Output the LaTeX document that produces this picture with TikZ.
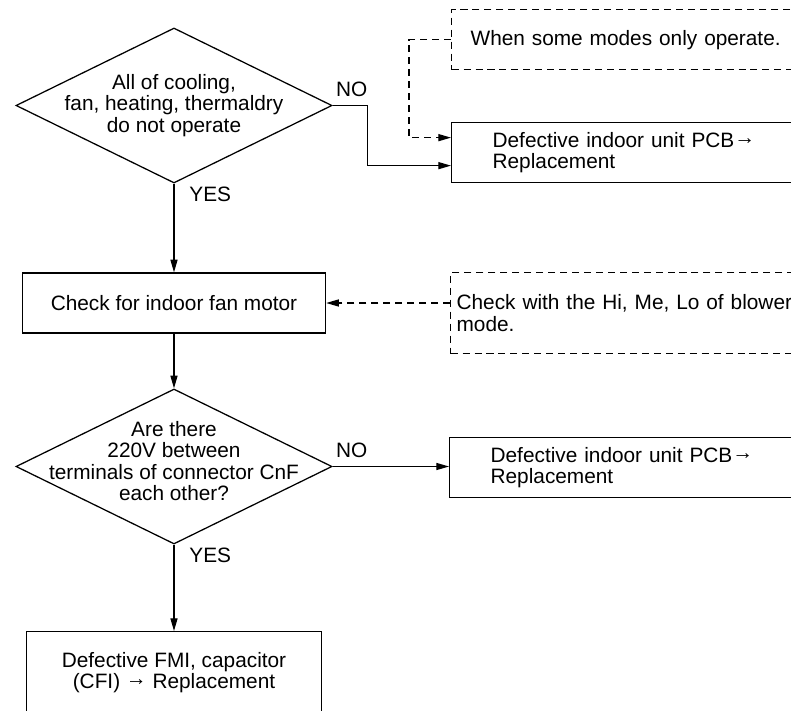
\documentclass[tikz,border=0pt]{standalone}
\usepackage{fontspec}
\setmainfont{Liberation Sans}
\usepackage{tikz}
\usetikzlibrary{shapes.geometric, arrows.meta, calc}
\newcommand{\toarrow}{\raisebox{0.14em}{→}}

\begin{document}
\begin{tikzpicture}[x=0.025cm, y=-0.025cm,
    font=\fontsize{14.8}{15.3}\selectfont,
    decision/.style={draw, diamond, inner sep=0pt, minimum width=7.9cm, minimum height=3.875cm},
    procbox/.style={draw, rectangle, minimum height=1.5cm},
    notebox/.style={draw, dash pattern=on 5pt off 3.5pt, rectangle, align=left, text width=10cm},
    flow/.style={-{Triangle[length=9pt, width=5pt]}},
    dflow/.style={flow, dash pattern=on 5pt off 3.5pt},
    lbl/.style={inner sep=2pt},
    nolbl/.style={lbl, anchor=south west, yshift=3.5pt},
    yeslbl/.style={lbl, anchor=north west, xshift=8.5pt},
    line width=0.9pt]

    \useasboundingbox (0,0) rectangle (791,711);
    \clip (0,0) rectangle (791,711);

    % === First check ===
    \node[decision, label={[align=center]center:{All of cooling,\\fan, heating, thermaldry\\do not operate}}] (dec1) at (174,105.5) {};
    \node[notebox, anchor=north west, minimum height=1.5cm, inner xsep=0.475cm] (note1) at (451,9) {When some modes only operate.};
    \node[procbox, anchor=north west, align=left, text width=9cm, inner xsep=1.025cm] (pcb1) at (451,122) {Defective indoor unit PCB\toarrow\\Replacement};

    % === Fan motor ===
    \node[procbox, minimum width=7.575cm] (chk) at (174,303) {Check for indoor fan motor};
    \node[notebox, anchor=north west, minimum height=2.025cm, inner xsep=0.15cm] (note2) at (450,272) {Check with the Hi, Me, Lo of blower\\mode.};

    % === Second check ===
    \node[decision, label={[align=center, yshift=4pt]center:{Are there\\220V between\\terminals of connector CnF\\each other?}}] (dec2) at (174,466.5) {};
    \node[procbox, anchor=north west, align=left, text width=9cm, inner xsep=1.025cm] (pcb2) at (449,437) {Defective indoor unit PCB\toarrow\\Replacement};
    \node[procbox, anchor=north, align=center, minimum width=7.375cm, minimum height=2.05cm] (fmi) at (174,631) {Defective FMI, capacitor\\(CFI) \toarrow{} Replacement};

    % === Connectors ===
    \draw[flow] (dec1.east) -- node[nolbl, pos=0]{NO} ++(35,0) |- ($(pcb1.west)+(0,13)$);
    \draw[dflow] (note1.west) -- ++(-42,0) |- ($(pcb1.west)+(0,-15)$);
    \draw[flow] (dec1.south) -- node[yeslbl, pos=0]{YES} (chk.north);
    \draw[dflow] (note2.west |- chk.east) -- (chk.east);
    \draw[flow] (chk.south) -- (dec2.north);
    \draw[flow] (dec2.east) -- node[nolbl, pos=0]{NO} (pcb2.west |- dec2.east);
    \draw[flow] (dec2.south) -- node[yeslbl, pos=0]{YES} (fmi.north);

\end{tikzpicture}
\end{document}
